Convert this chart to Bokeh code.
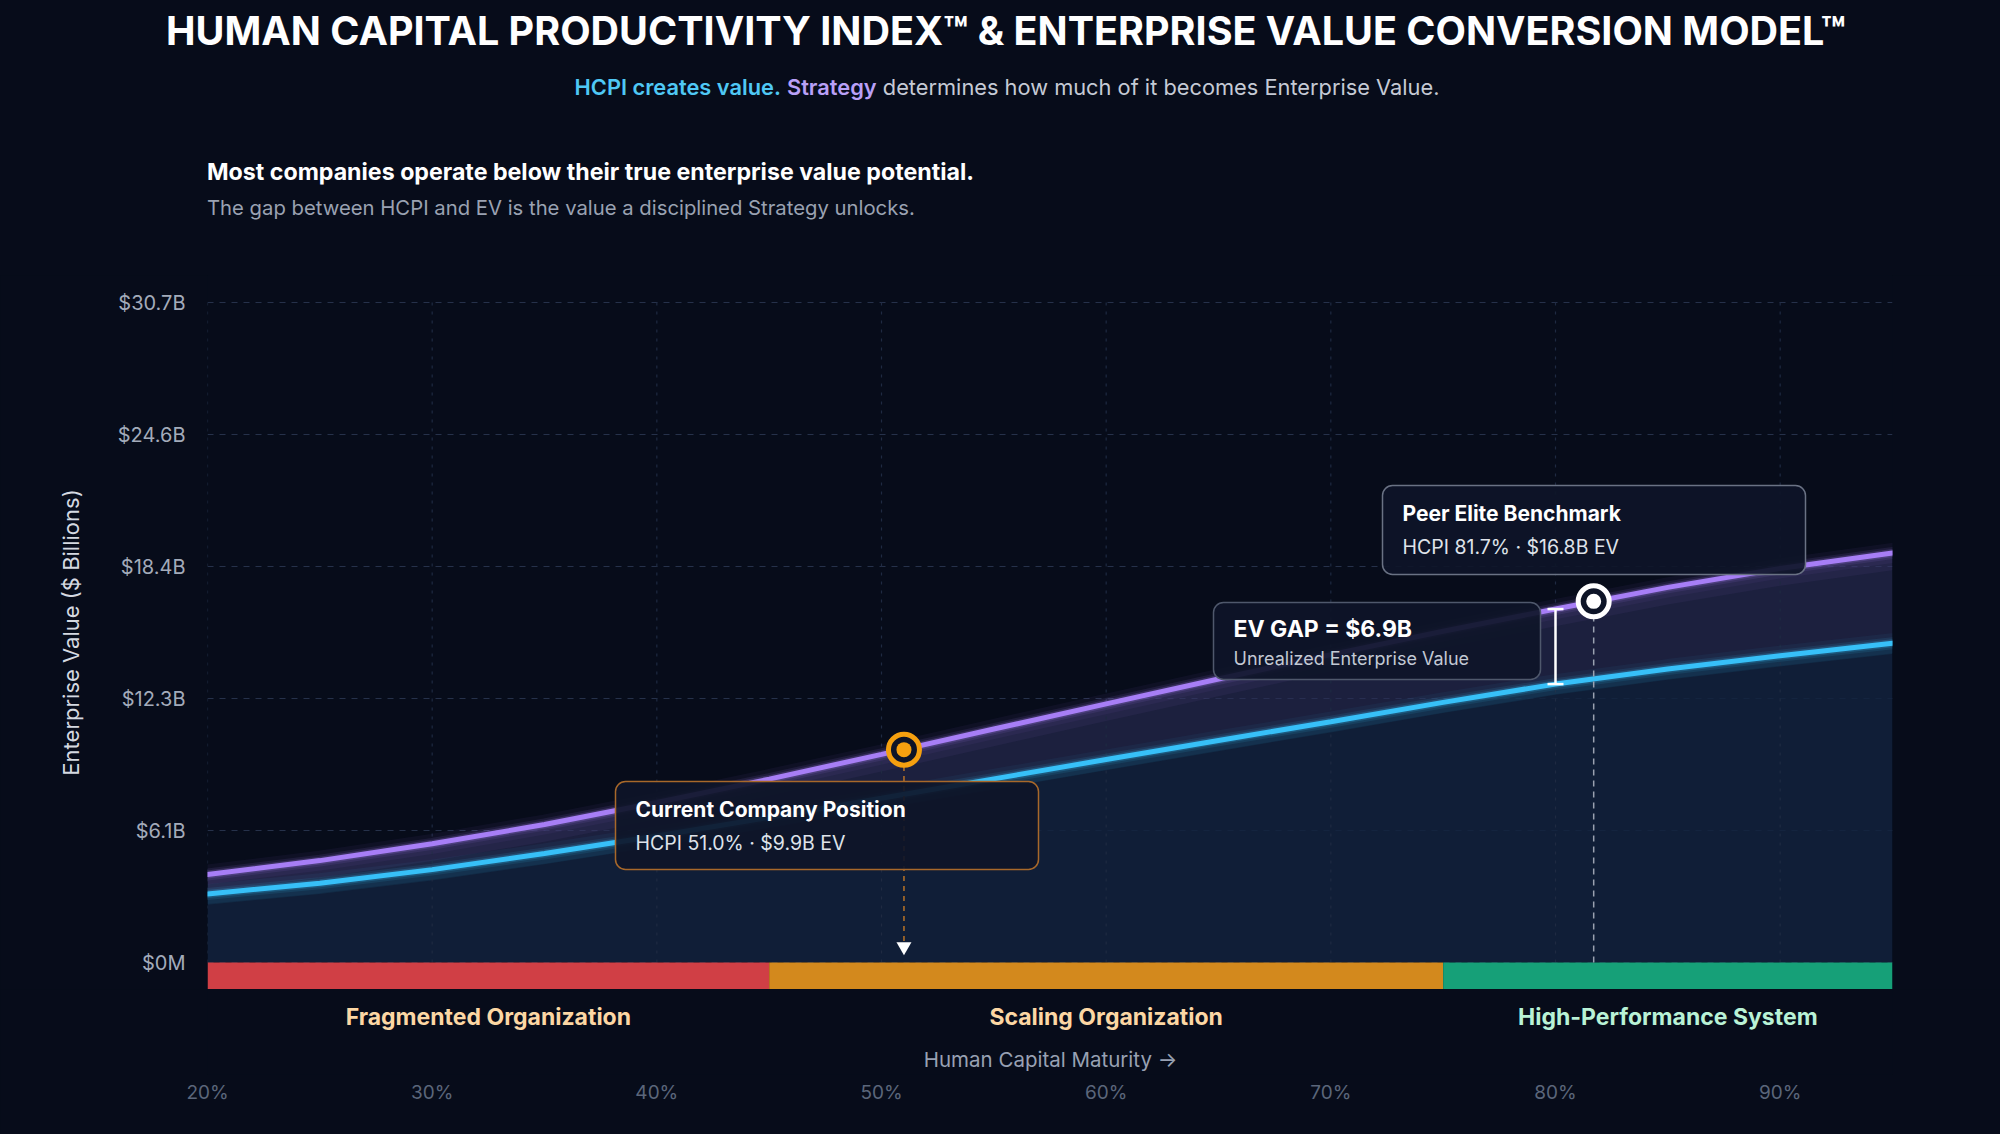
import numpy as np
from bokeh.plotting import figure
from bokeh.layouts import column
from bokeh.models import Range1d, FixedTicker, Label, BoxAnnotation, Div
from bokeh.embed import file_html
from bokeh.resources import INLINE

# ---- data -------------------------------------------------------------
maturity = [20, 25, 30, 35, 40, 45, 50, 55, 60, 65, 70, 75, 80, 85, 90, 95]          # HCPI maturity, %
hcpi_value = [4.09, 4.74, 5.52, 6.42, 7.44, 8.53, 9.68, 10.86, 12.03, 13.19, 14.32,
              15.41, 16.44, 17.45, 18.33, 19.05]                                     # value created by HCPI, $B
ev_value = [3.19, 3.69, 4.32, 5.07, 5.88, 6.75, 7.64, 8.54, 9.44, 10.33, 11.20,
            12.10, 12.95, 13.65, 14.27, 14.85]                                       # realised enterprise value, $B

stage_names = ["Fragmented Organization", "Scaling Organization", "High-Performance System"]
stage_start = [20, 45, 75]
stage_end = [45, 75, 95]

current_hcpi, current_ev = 51.0, 9.9
peer_hcpi, peer_ev = 81.7, 16.8
gap_at = 80  # maturity where the gap bracket is drawn

y_max = 30.7
y_ticks = [round(y_max * i / 5, 2) for i in range(6)]
x_ticks = [20, 30, 40, 50, 60, 70, 80, 90]

# ---- styling ----------------------------------------------------------
BG = "#070c1a"
PURPLE = "#a77ef6"
BLUE = "#37c0f8"
ORANGE = "#f5a00f"
FONT = "Inter"
STAGE_COLORS = ["#d03f45", "#d3891d", "#16a078"]
STAGE_TEXT = ["#fcd7a4", "#fcd7a4", "#b9f2d6"]

W, H = 2000, 1134
HEAD_H = 275              # header block
TOP_PAD = 27              # frame space above the $30.7B line
PLOT_PX = 660             # $0 .. y_max
BAR_PX = 27               # stage bar under the $0 line
MAIN_H = TOP_PAD + PLOT_PX + BAR_PX
FOOT_H = H - HEAD_H - MAIN_H
FOOT_FRAME = 85           # labelled strip under the stage bar
FL, FR = 207, 1892
ppx = (FR - FL) / (95 - 20)
ppy = PLOT_PX / y_max
ZERO_PX = HEAD_H + TOP_PAD + PLOT_PX
bar_bottom = -BAR_PX / ppy
y_top = y_max + TOP_PAD / ppy


def dx(sx):
    return 20 + (sx - FL) / ppx


def dy(sy):
    return (ZERO_PX - sy) / ppy


x_range = Range1d(20, 95)

# ---- header -----------------------------------------------------------
header_html = f"""
<div style="position:relative;width:{W}px;height:{HEAD_H}px;background:{BG};font-family:Inter,sans-serif;">
  <div style="position:absolute;left:6px;top:7px;width:{W}px;text-align:center;font-size:39.5px;line-height:48px;
              font-weight:700;color:#ffffff;white-space:nowrap;">
    HUMAN CAPITAL PRODUCTIVITY INDEX&trade; &amp; ENTERPRISE VALUE CONVERSION MODEL&trade;</div>
  <div style="position:absolute;left:7px;top:73px;width:{W}px;text-align:center;font-size:21.8px;line-height:28px;
              color:#c5cad5;white-space:nowrap;">
    <span style="color:#4fc8f5;font-weight:600;">HCPI creates value.</span>
    <span style="color:#b9a0f7;font-weight:600;">Strategy</span> determines how much of it becomes Enterprise Value.</div>
  <div style="position:absolute;left:{FL}px;top:157px;font-size:23.2px;line-height:30px;font-weight:700;
              color:#ffffff;white-space:nowrap;">Most companies operate below their true enterprise value potential.</div>
  <div style="position:absolute;left:{FL}px;top:195px;font-size:20.3px;line-height:26px;
              color:#9aa2b2;white-space:nowrap;">The gap between HCPI and EV is the value a disciplined Strategy unlocks.</div>
</div>
"""
header = Div(text=header_html, width=W, height=HEAD_H, margin=(0, 0, 0, 0), styles={"background-color": BG})

# ---- main chart -------------------------------------------------------
p = figure(width=W, height=MAIN_H, x_range=x_range, y_range=Range1d(bar_bottom, y_top),
           x_axis_location=None, output_backend="svg", toolbar_location=None,
           min_border_left=FL, min_border_right=W - FR, min_border_top=0, min_border_bottom=0,
           background_fill_color=BG, border_fill_color=BG, outline_line_color=None, margin=(0, 0, 0, 0))
p.outline_line_alpha = 0

p.yaxis.ticker = FixedTicker(ticks=y_ticks)
p.yaxis.major_label_overrides = {t: ("$0M" if t == 0 else f"${t:.1f}B") for t in y_ticks}
p.yaxis.axis_line_color = None
p.yaxis.major_tick_line_color = None
p.yaxis.minor_tick_line_color = None
p.yaxis.major_label_text_font = FONT
p.yaxis.major_label_text_font_size = "20px"
p.yaxis.major_label_text_color = "#a3abba"
p.yaxis.major_label_standoff = 16
p.yaxis.axis_label = "Enterprise Value ($ Billions)"
p.yaxis.axis_label_text_font = FONT
p.yaxis.axis_label_text_font_style = "normal"
p.yaxis.axis_label_text_font_size = "22px"
p.yaxis.axis_label_text_color = "#d5d9e1"
p.yaxis.axis_label_standoff = 31

p.xgrid.visible = False
p.ygrid.ticker = FixedTicker(ticks=y_ticks)
p.ygrid.grid_line_color = "#26314a"
p.ygrid.grid_line_dash = "6 6"
p.ygrid.grid_line_width = 1

ev = np.array(ev_value)
hc = np.array(hcpi_value)
p.varea(x=maturity, y1=0, y2=ev_value, fill_color="#12223d", fill_alpha=0.85)
p.varea(x=maturity, y1=ev - 0.5, y2=ev, fill_color=BLUE, fill_alpha=0.08)
p.varea(x=maturity, y1=ev, y2=hc, fill_color="#2a2d55", fill_alpha=0.62)
p.varea(x=maturity, y1=hc - 0.8, y2=hc, fill_color=PURPLE, fill_alpha=0.06)

# vertical guides
p.segment(x0=x_ticks, y0=0, x1=x_ticks, y1=y_max, line_color="#1f2a42", line_width=1.2, line_dash="3 6")

# glowing curves
for series, col in [(ev_value, BLUE), (hcpi_value, PURPLE)]:
    for w, a in [(20, 0.05), (12, 0.10), (8, 0.20)]:
        p.line(maturity, series, line_color=col, line_width=w, line_alpha=a, line_cap="round")
    p.line(maturity, series, line_color=col, line_width=5, line_cap="round")

# maturity stage bar
p.quad(left=stage_start, right=stage_end, bottom=bar_bottom, top=0, fill_color=STAGE_COLORS, line_color=None)

# drop lines, gap bracket and markers
p.segment(x0=[current_hcpi], y0=[1.0], x1=[current_hcpi], y1=[current_ev],
          line_color="#b87428", line_width=1.5, line_dash="5 5")
p.scatter(x=[current_hcpi], y=[0.74], marker="inverted_triangle", size=15, fill_color="white", line_color=None)
p.segment(x0=[peer_hcpi], y0=[0], x1=[peer_hcpi], y1=[peer_ev],
          line_color="#9aa1b0", line_width=1.5, line_dash="6 5")

i_gap = maturity.index(gap_at)
p.segment(x0=[gap_at], y0=[ev_value[i_gap]], x1=[gap_at], y1=[hcpi_value[i_gap]], line_color="white", line_width=2.5)
p.scatter(x=[gap_at, gap_at], y=[ev_value[i_gap], hcpi_value[i_gap]], marker="dash", size=16,
          line_color="white", line_width=2.5)

for (mx, my, col) in [(current_hcpi, current_ev, ORANGE), (peer_hcpi, peer_ev, "white")]:
    p.scatter(x=[mx], y=[my], size=31, fill_color="#0d1427", line_color=col, line_width=5)
    p.scatter(x=[mx], y=[my], size=15, fill_color=col, line_color=None)


def callout(box, border, title, sub, title_size="21px", sub_color="#dfe3ea", sub_size="19.5px"):
    left, top, right, bottom, ty, sy = box
    p.add_layout(BoxAnnotation(left=dx(left), right=dx(right), top=dy(top), bottom=dy(bottom),
                               fill_color="#0e1528", fill_alpha=0.92, line_color=border,
                               line_width=1.5, line_alpha=1.0, border_radius=10))
    p.add_layout(Label(x=dx(left + 20), y=dy(ty), text=title, text_baseline="middle", text_font=FONT,
                       text_font_style="bold", text_font_size=title_size, text_color="white"))
    p.add_layout(Label(x=dx(left + 20), y=dy(sy), text=sub, text_baseline="middle", text_font=FONT,
                       text_font_size=sub_size, text_color=sub_color))


callout((615, 781, 1038, 869, 809, 842), "#a8682a", "Current Company Position",
        f"HCPI {current_hcpi:.1f}% \u00b7 ${current_ev:.1f}B EV")
callout((1213, 602, 1540, 679, 628, 658), "#4f586c", f"EV GAP = ${peer_ev - current_ev:.1f}B",
        "Unrealized Enterprise Value", title_size="23px", sub_color="#c3c9d4", sub_size="18px")
callout((1382, 485, 1805, 574, 513, 546), "#6a7284", "Peer Elite Benchmark",
        f"HCPI {peer_hcpi:.1f}% \u00b7 ${peer_ev:.1f}B EV")

# ---- stage names and x axis -------------------------------------------
q = figure(width=W, height=FOOT_H, x_range=x_range, y_range=Range1d(-FOOT_FRAME, 0),
           y_axis_location=None, output_backend="svg", toolbar_location=None,
           min_border_left=FL, min_border_right=W - FR, min_border_top=0, min_border_bottom=FOOT_H - FOOT_FRAME,
           background_fill_color=BG, border_fill_color=BG, outline_line_color=None, margin=(0, 0, 0, 0))
q.outline_line_alpha = 0
q.grid.visible = False
q.xaxis.ticker = FixedTicker(ticks=x_ticks)
q.xaxis.major_label_overrides = {t: f"{t}%" for t in x_ticks}
q.xaxis.axis_line_color = None
q.xaxis.major_tick_line_color = None
q.xaxis.minor_tick_line_color = None
q.xaxis.major_label_text_font = FONT
q.xaxis.major_label_text_font_size = "19px"
q.xaxis.major_label_text_color = "#5b667a"
q.xaxis.major_label_standoff = 0

for name, s, e, c in zip(stage_names, stage_start, stage_end, STAGE_TEXT):
    q.add_layout(Label(x=(s + e) / 2, y=-27, text=name, text_align="center", text_baseline="middle",
                       text_font=FONT, text_font_style="bold", text_font_size="23px", text_color=c))
q.add_layout(Label(x=dx(1050), y=-70, text="Human Capital Maturity \u2192", text_align="center",
                   text_baseline="middle", text_font=FONT, text_font_size="20.5px", text_color="#98a1b3"))

layout = column(header, p, q, spacing=0, margin=(0, 0, 0, 0), styles={"background-color": BG})
open("out.html", "w").write(file_html(layout, INLINE))
